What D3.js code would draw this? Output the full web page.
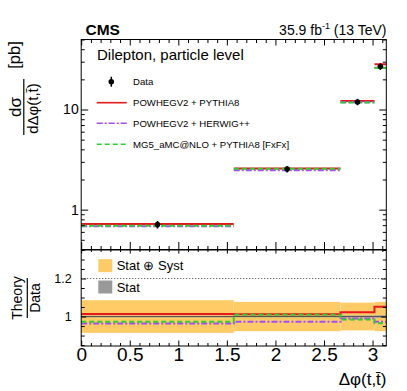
<!DOCTYPE html>
<html><head><meta charset="utf-8">
<script src="https://cdn.jsdelivr.net/npm/d3@7"></script>
<style>body{margin:0;background:#fff} svg{display:block}</style>
</head><body><svg id="c" width="407" height="391"></svg>
<script>
// ---------------- data ----------------
const binEdges = [0, 1.571, 2.67, 3.02, Math.PI];
const dataXsec = [0.709, 2.54, 11.9, 26.9];          // pb
const totalUnc = [0.086, 0.077, 0.073, 0.077];       // relative, stat (+) syst
const statUnc = [0.004, 0.004, 0.005, 0.006];        // relative, stat only
const ratioPowhegPythia = [1.013, 1.012, 1.022, 1.052];
const ratioPowhegHerwig = [0.964, 0.973, 0.990, 0.973];
const ratioMg5 = [0.973, 1.009, 0.985, 0.965];
const seriesNames = ["POWHEGV2 + PYTHIA8", "POWHEGV2 + HERWIG++", "MG5_aMC@NLO + PYTHIA8 [FxFx]"];
const xMajorTicks = [0, 0.5, 1, 1.5, 2, 2.5, 3];
const xTickLabels = ["0", "0.5", "1", "1.5", "2", "2.5", "3"];
const xMinorTicks = [0.1,0.2,0.3,0.4,0.6,0.7,0.8,0.9,1.1,1.2,1.3,1.4,1.6,1.7,1.8,1.9,2.1,2.2,2.3,2.4,2.6,2.7,2.8,2.9,3.1];
const yMajorTicks = [1, 10];
const yTickLabels = ["1", "10"];
const yMinorTicks = [0.4,0.5,0.6,0.7,0.8,0.9,2,3,4,5,6,7,8,9,20,30,40,50];
const ratioMajorTicks = [1.0, 1.2];
const ratioTickLabels = ["1", "1.2"];
const ratioMinorTicks = [0.85,0.9,0.95,1.05,1.1,1.15,1.25,1.3,1.35];

// ---------------- setup ----------------
const FONT = "'Liberation Sans', Arial, Helvetica, sans-serif";
const svg = d3.select("#c").attr("font-family", FONT);
const L = 81.2, R = 386.3, T1 = 39.5, B1 = 249.5, T2 = 250, B2 = 346;
const x = d3.scaleLinear().domain([0, Math.PI]).range([L, R]);
const y = d3.scaleLog().domain([0.4, 50]).range([B1, T1]);
const yr = d3.scaleLinear().domain([0.845, 1.35]).range([B2, T2]);

const colRed = "#e8191d", colPurple = "#a050f0", colGreen = "#33cc33";
const colBand = "#fecb67", colStat = "#999999";
const styles = [
  {c: colRed, dash: null},
  {c: colPurple, dash: "6,2,2,2"},
  {c: colGreen, dash: "5,3"}
];
const ratios = [ratioPowhegPythia, ratioPowhegHerwig, ratioMg5];
const bins = d3.range(dataXsec.length);

// ---------------- lower panel content ----------------
const gLow = svg.append("g");
gLow.selectAll("rect.tot").data(bins).join("rect")
  .attr("x", i => x(binEdges[i])).attr("width", i => x(binEdges[i+1]) - x(binEdges[i]))
  .attr("y", i => yr(1 + totalUnc[i])).attr("height", i => yr(1 - totalUnc[i]) - yr(1 + totalUnc[i]))
  .attr("fill", colBand);
gLow.selectAll("rect.stat").data(bins).join("rect")
  .attr("x", i => x(binEdges[i])).attr("width", i => x(binEdges[i+1]) - x(binEdges[i]))
  .attr("y", i => yr(1 + statUnc[i])).attr("height", i => yr(1 - statUnc[i]) - yr(1 + statUnc[i]))
  .attr("fill", colStat);
gLow.append("line").attr("x1", x(0)).attr("x2", x(Math.PI)).attr("y1", yr(1.2)).attr("y2", yr(1.2))
  .attr("stroke", "#444").attr("stroke-width", 1).attr("stroke-dasharray", "1,2");
gLow.append("line").attr("x1", x(0)).attr("x2", x(Math.PI)).attr("y1", yr(1)).attr("y2", yr(1))
  .attr("stroke", "#555").attr("stroke-width", 1);

const stepLine = d3.line().x(d => x(d[0])).y(d => yr(d[1]));
ratios.forEach((r, k) => {
  const pts = [];
  bins.forEach(i => { pts.push([binEdges[i], r[i]]); pts.push([binEdges[i+1], r[i]]); });
  gLow.append("path").attr("d", stepLine(pts)).attr("fill", "none")
    .attr("stroke", styles[k].c).attr("stroke-width", 2)
    .attr("stroke-dasharray", styles[k].dash);
});

// ratio legend
const legR = [{t: "Stat \u2295 Syst", c: colBand, y: 265.7}, {t: "Stat", c: colStat, y: 287}];
legR.forEach(d => {
  svg.append("rect").attr("x", 98.3).attr("y", d.y - 6.5).attr("width", 14).attr("height", 13).attr("fill", d.c);
  svg.append("text").attr("x", 116.7).attr("y", d.y).attr("dy", "0.35em").attr("font-size", 13).text(d.t);
});

// ---------------- upper panel content ----------------
const gUp = svg.append("g");
ratios.forEach((r, k) => {
  gUp.selectAll(null).data(bins).join("line")
    .attr("x1", i => x(binEdges[i])).attr("x2", i => x(binEdges[i+1]))
    .attr("y1", i => y(r[i] * dataXsec[i])).attr("y2", i => y(r[i] * dataXsec[i]))
    .attr("stroke", styles[k].c).attr("stroke-width", 2)
    .attr("stroke-dasharray", styles[k].dash);
});
const xc = i => x((binEdges[i] + binEdges[i+1]) / 2);
gUp.selectAll("line.err").data(bins).join("line")
  .attr("x1", xc).attr("x2", xc)
  .attr("y1", i => y(dataXsec[i] * (1 + totalUnc[i]))).attr("y2", i => y(dataXsec[i] * (1 - totalUnc[i])))
  .attr("stroke", "#000").attr("stroke-width", 1.5);
gUp.selectAll("circle").data(bins).join("circle")
  .attr("cx", xc).attr("cy", i => y(dataXsec[i])).attr("r", 2.8).attr("fill", "#000");

// upper legend
svg.append("text").attr("x", 97).attr("y", 59.5).attr("font-size", 15).text("Dilepton, particle level");
svg.append("line").attr("x1", 111.3).attr("x2", 111.3).attr("y1", 76.7).attr("y2", 86.7).attr("stroke", "#000").attr("stroke-width", 1.5);
svg.append("circle").attr("cx", 111.3).attr("cy", 81.7).attr("r", 2.8).attr("fill", "#000");
svg.append("text").attr("x", 133).attr("y", 81.7).attr("dy", "0.35em").attr("font-size", 9.6).text("Data");
const legY = [102.7, 123.3, 144.3];
seriesNames.forEach((n, k) => {
  svg.append("line").attr("x1", 96.7).attr("x2", 126.7).attr("y1", legY[k]).attr("y2", legY[k])
    .attr("stroke", styles[k].c).attr("stroke-width", 1.6).attr("stroke-dasharray", styles[k].dash);
  svg.append("text").attr("x", 133).attr("y", legY[k]).attr("dy", "0.35em").attr("font-size", 9.6).text(n);
});

// ---------------- axes & frames ----------------
function axis(gen, scale, tx, ty, values, size, labels, pad, fs) {
  const a = gen(scale).tickValues(values).tickSizeInner(size).tickSizeOuter(0)
    .tickPadding(pad || 0).tickFormat(labels ? ((d, i) => labels[i]) : (() => ""));
  const g = svg.append("g").attr("transform", `translate(${tx},${ty})`).call(a);
  g.attr("font-family", FONT).attr("font-size", fs || 12);
  g.select(".domain").remove();
  g.selectAll("line").attr("stroke", "#000").attr("stroke-width", 1);
  g.selectAll("text").attr("fill", "#000");
  return g;
}
// upper panel
axis(d3.axisTop, x, 0, T1, xMajorTicks, -6, null);
axis(d3.axisTop, x, 0, T1, xMinorTicks, -3.5, null);
axis(d3.axisBottom, x, 0, B1, xMajorTicks, -7.5, null);
axis(d3.axisBottom, x, 0, B1, xMinorTicks, -3.5, null);
axis(d3.axisLeft, y, L, 0, yMajorTicks, -7, yTickLabels, 2.5, 14);
axis(d3.axisLeft, y, L, 0, yMinorTicks, -3.5, null);
axis(d3.axisRight, y, R, 0, yMajorTicks, -7, null);
axis(d3.axisRight, y, R, 0, yMinorTicks, -3.5, null);
// lower panel
axis(d3.axisTop, x, 0, T2, xMajorTicks, -3.5, null);
axis(d3.axisTop, x, 0, T2, xMinorTicks, -2, null);
axis(d3.axisBottom, x, 0, B2, xMajorTicks, -5.5, xTickLabels, 1, 19);
axis(d3.axisBottom, x, 0, B2, xMinorTicks, -3, null);
axis(d3.axisLeft, yr, L, 0, ratioMajorTicks, -5, ratioTickLabels, 9.5, 12.5);
axis(d3.axisLeft, yr, L, 0, ratioMinorTicks, -3.5, null);
axis(d3.axisRight, yr, R, 0, ratioMajorTicks, -5, null);
axis(d3.axisRight, yr, R, 0, ratioMinorTicks, -3.5, null);

svg.append("rect").attr("x", L).attr("y", T1).attr("width", R - L).attr("height", B1 - T1)
  .attr("fill", "none").attr("stroke", "#000").attr("stroke-width", 1);
svg.append("rect").attr("x", L).attr("y", T2).attr("width", R - L).attr("height", B2 - T2)
  .attr("fill", "none").attr("stroke", "#000").attr("stroke-width", 1);

// ---------------- titles ----------------
svg.append("text").attr("x", 85.5).attr("y", 34.5).attr("font-size", 15.5).attr("font-weight", "bold").text("CMS");
const lumi = svg.append("text").attr("x", 386.5).attr("y", 34.5).attr("font-size", 14).attr("text-anchor", "end");
lumi.append("tspan").text("35.9 fb");
lumi.append("tspan").attr("dy", -5.5).attr("font-size", 9).text("-1");
lumi.append("tspan").attr("dy", 5.5).text(" (13 TeV)");

// y title (upper)
function rot(px, py, txt, fs) {
  return svg.append("text").attr("transform", `translate(${px},${py}) rotate(-90)`)
    .attr("text-anchor", "middle").attr("font-size", fs).text(txt);
}
rot(21, 107, "d\u03c3", 17);
svg.append("line").attr("x1", 23.8).attr("x2", 23.8).attr("y1", 79).attr("y2", 135).attr("stroke", "#000").attr("stroke-width", 1.2);
rot(37.5, 108.5, "d\u0394\u03c6(t,t\u0304)", 15);
rot(19.5, 55, "[pb]", 16.5);
// y title (lower)
rot(22, 298, "Theory", 14);
svg.append("line").attr("x1", 27.3).attr("x2", 27.3).attr("y1", 278).attr("y2", 318).attr("stroke", "#000").attr("stroke-width", 1.2);
rot(39.5, 298, "Data", 14);
// x title
svg.append("text").attr("x", 386.5).attr("y", 385).attr("font-size", 17).attr("text-anchor", "end").text("\u0394\u03c6(t,t\u0304)");
</script></body></html>
